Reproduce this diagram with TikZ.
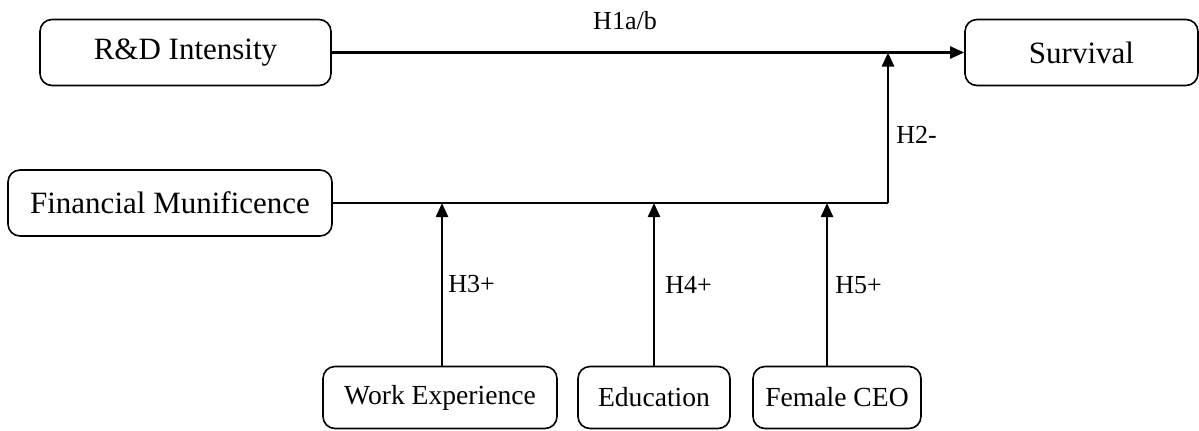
\documentclass[tikz,border=0pt]{standalone}
\usepackage{fontspec}
\setmainfont{Liberation Serif}
\usetikzlibrary{arrows.meta}

\begin{document}
\begin{tikzpicture}[x=0.5pt,y=-0.5pt,
  varbox/.style={draw,rounded corners=6pt,line width=0.8pt,minimum height=33pt,inner sep=0pt,font=\fontsize{15.5}{18}\selectfont},
  lowbox/.style={varbox,minimum height=31pt,font=\fontsize{13.8}{16}\selectfont},
  hyplabel/.style={font=\fontsize{13}{15}\selectfont,inner sep=0pt},
  path/.style={line width=1.2pt},
  arr/.style={path,-{Triangle[length=7pt,width=6pt]}}]
\useasboundingbox (0,0) rectangle (1199,430);
% variables
\node[varbox,minimum width=145.5pt] (rd) at (185.5,52.5) {R\&D Intensity};
\node[varbox,minimum width=116.5pt] (surv) at (1081.5,52.5) {Survival};
\node[varbox,minimum width=162pt] (fin) at (170,203) {Financial Munificence};
\node[lowbox,minimum width=117pt] (work) at (440,397.5) {Work Experience};
\node[lowbox,minimum width=76pt] (edu) at (654,397.5) {Education};
\node[lowbox,minimum width=84pt] (fem) at (837,397.5) {Female CEO};
\coordinate (turn) at (888,203);
\coordinate (hit) at (888,52.5);
% paths
\draw[arr] (rd) -- (surv);
\draw[path] (fin) -- (turn);
\draw[arr] (turn) -- (hit);
\foreach \src/\px in {work/442,edu/654,fem/827}
  {\draw[arr] (\px,0 |- \src.north) -- (\px,0 |- fin);}
% labels
\node[hyplabel] (h1) at (625,21) {H1a/b};
\node[hyplabel,anchor=west] (h2) at (896,135) {H2-};
\node[hyplabel,anchor=west] (h3) at (448,284) {H3+};
\node[hyplabel,anchor=west] (h4) at (665,285) {H4+};
\node[hyplabel,anchor=west] (h5) at (835,285) {H5+};
\end{tikzpicture}
\end{document}
